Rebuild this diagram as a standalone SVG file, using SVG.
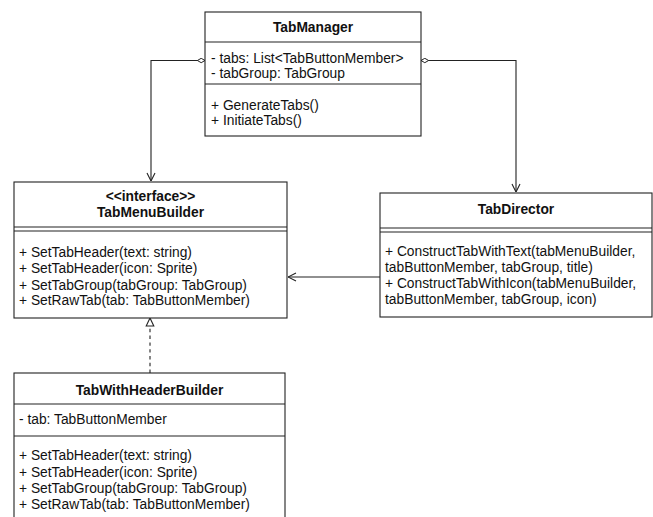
<svg xmlns="http://www.w3.org/2000/svg" width="653" height="517" viewBox="0 0 653 517">
  <style>
    .box { fill: #ffffff; stroke: #222222; stroke-width: 1.1; }
    .sep { stroke: #222222; stroke-width: 1.1; fill: none; }
    .edge { stroke: #222222; stroke-width: 1.1; fill: none; }
    .dash { stroke-dasharray: 3.4 3.4; }
    text { font-family: "Liberation Sans", Arial, Helvetica, sans-serif; font-size: 13.8px; fill: #111111; }
    .title { font-weight: bold; text-anchor: middle; }
  </style>
  <defs>
    <marker id="open" viewBox="0 0 10 10" refX="10" refY="5" markerWidth="10" markerHeight="10" markerUnits="userSpaceOnUse" orient="auto">
      <path d="M2,1 L10,5 L2,9" fill="none" stroke="#222222" stroke-width="1.1"/>
    </marker>
    <marker id="diamond" viewBox="0 0 9 6" refX="0.5" refY="3" markerWidth="9" markerHeight="6" markerUnits="userSpaceOnUse" orient="auto">
      <path d="M0.5,3 L4.3,0.8 L8.1,3 L4.3,5.2 Z" fill="#ffffff" stroke="#222222" stroke-width="1"/>
    </marker>
    <marker id="realize" viewBox="0 0 10 10" refX="9.5" refY="5" markerWidth="10" markerHeight="10" markerUnits="userSpaceOnUse" orient="auto">
      <path d="M1.5,1.2 L9.5,5 L1.5,8.8 Z" fill="#ffffff" stroke="#222222" stroke-width="1.1"/>
    </marker>
  </defs>

  <!-- associations and realization -->
  <g id="connectors">
    <path class="edge" d="M205,60.5 H151 V181" marker-start="url(#diamond)" marker-end="url(#open)"/>
    <path class="edge" d="M421,60.5 H516 V192" marker-start="url(#diamond)" marker-end="url(#open)"/>
    <path class="edge" d="M380,277 H288" marker-end="url(#open)"/>
    <path class="edge dash" d="M150,373 V318" marker-end="url(#realize)"/>
  </g>

  <g id="TabManager">
    <rect class="box" x="205" y="12" width="216" height="124"/>
    <line class="sep" x1="205" y1="42" x2="421" y2="42"/>
    <line class="sep" x1="205" y1="84" x2="421" y2="84"/>
    <text class="title" x="313" y="32">TabManager</text>
    <text x="211" y="62.5">- tabs: List&lt;TabButtonMember&gt;</text>
    <text x="211" y="78">- tabGroup: TabGroup</text>
    <text x="211" y="110">+ GenerateTabs()</text>
    <text x="211" y="125">+ InitiateTabs()</text>
  </g>

  <g id="TabMenuBuilder">
    <rect class="box" x="14" y="182" width="273" height="136"/>
    <line class="sep" x1="14" y1="227" x2="287" y2="227"/>
    <line class="sep" x1="14" y1="231" x2="287" y2="231"/>
    <text class="title" x="150.5" y="201">&lt;&lt;interface&gt;&gt;</text>
    <text class="title" x="150.5" y="217">TabMenuBuilder</text>
    <text x="19" y="257">+ SetTabHeader(text: string)</text>
    <text x="19" y="273">+ SetTabHeader(icon: Sprite)</text>
    <text x="19" y="289.5">+ SetTabGroup(tabGroup: TabGroup)</text>
    <text x="19" y="305">+ SetRawTab(tab: TabButtonMember)</text>
  </g>

  <g id="TabDirector">
    <rect class="box" x="380" y="193" width="272" height="124"/>
    <line class="sep" x1="380" y1="228" x2="652" y2="228"/>
    <line class="sep" x1="380" y1="232" x2="652" y2="232"/>
    <text class="title" x="516" y="214">TabDirector</text>
    <text x="385" y="256">+ ConstructTabWithText(tabMenuBuilder,</text>
    <text x="385" y="272">tabButtonMember, tabGroup, title)</text>
    <text x="385" y="288">+ ConstructTabWithIcon(tabMenuBuilder,</text>
    <text x="385" y="304">tabButtonMember, tabGroup, icon)</text>
  </g>

  <g id="TabWithHeaderBuilder">
    <rect class="box" x="14" y="373" width="271" height="160"/>
    <line class="sep" x1="14" y1="404" x2="285" y2="404"/>
    <line class="sep" x1="14" y1="436" x2="285" y2="436"/>
    <text class="title" x="149.5" y="395">TabWithHeaderBuilder</text>
    <text x="19" y="424">- tab: TabButtonMember</text>
    <text x="19" y="460">+ SetTabHeader(text: string)</text>
    <text x="19" y="476.5">+ SetTabHeader(icon: Sprite)</text>
    <text x="19" y="493">+ SetTabGroup(tabGroup: TabGroup)</text>
    <text x="19" y="509">+ SetRawTab(tab: TabButtonMember)</text>
  </g>
</svg>
